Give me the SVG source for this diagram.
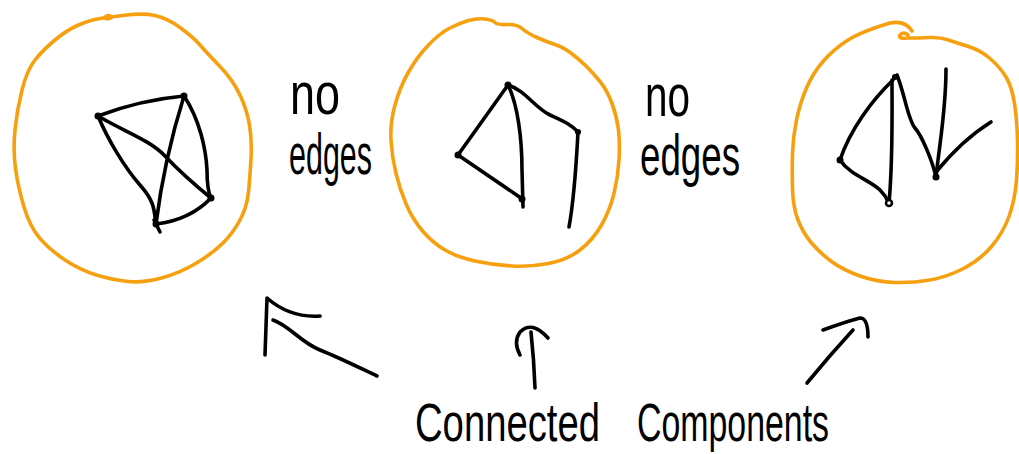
<svg xmlns="http://www.w3.org/2000/svg" width="1019" height="454" viewBox="0 0 1019 454">
<style>
.ring{fill:none;stroke:#f7a00f;stroke-width:3.6;stroke-linecap:round;stroke-linejoin:round}
.ink{fill:none;stroke:#000;stroke-width:3.6;stroke-linecap:round;stroke-linejoin:round}
.dot{fill:#000}
.hw{font-family:"Liberation Sans","DejaVu Sans",sans-serif;fill:#000}
</style>
<rect width="1019" height="454" fill="#fff"/>
<g id="component1">
<path class="ring" d="M100 18.5 Q110 17 126.5 15 Q143 13 155 15.5 Q167 18 180 27.5 Q193 37 200 45 Q207 53 220 66.5 Q233 80 240 95 Q247 110 249.5 125 Q252 140 251 158.5 Q250 177 248.5 192 Q247 207 240 220 Q233 233 223 243 Q213 253 196.5 263 Q180 273 161.5 278 Q143 283 128 281.5 Q113 280 96.5 275 Q80 270 65 260 Q50 250 40 238.5 Q30 227 24 207 Q18 187 15.5 168.5 Q13 150 15 130 Q17 110 22 90 Q27 70 35 60 Q43 50 55 40 Q67 30 78.5 25 Q90 20 100 18.5 Z"/>
<path class="ring" d="M104 18 Q108 14 112 17 Q108 20 104 18"/>
<path class="ink" d="M98 116 Q140 100 184 96"/>
<path class="ink" d="M98 116 C108 140 125 168 140 185 S154 210 156 224"/>
<path class="ink" d="M98 116 C125 132 150 140 165 156 S195 185 211 198"/>
<path class="ink" d="M184 96 Q164 160 156 224"/>
<path class="ink" d="M184 96 C200 120 206 150 207 170 Q207 190 211 198"/>
<path class="ink" d="M156 224 Q190 220 211 198"/>
<path class="ink" d="M154 220 L160 232"/>
<circle class="dot" cx="98" cy="116" r="3.5"/>
<circle class="dot" cx="184" cy="96" r="3.5"/>
<circle class="dot" cx="211" cy="198" r="3.5"/>
<circle class="dot" cx="156" cy="224" r="3.5"/>
</g>
<g id="component2">
<path class="ring" d="M468.5 20.5 Q477 18 485 19 Q493 20 495 22.5 Q497 25 507 24.5 Q517 24 522 28.5 Q527 33 537 37.5 Q547 42 555 44.5 Q563 47 571.5 53.5 Q580 60 586.5 66.5 Q593 73 600 81.5 Q607 90 612 103.5 Q617 117 618.5 130 Q620 143 619 160 Q618 177 614 193.5 Q610 210 601.5 225 Q593 240 580 250 Q567 260 548.5 263.5 Q530 267 511.5 266 Q493 265 475 261 Q457 257 445 250 Q433 243 423 231.5 Q413 220 406.5 205 Q400 190 396 173.5 Q392 157 391 140 Q390 123 395 105 Q400 87 408.5 72 Q417 57 428.5 45 Q440 33 450 28 Q460 23 468.5 20.5 Z"/>
<path class="ink" d="M508 85 L458 155"/>
<path class="ink" d="M458 155 L521 198"/>
<path class="ink" d="M508 85 C518 105 522 140 522 170 L523 207"/>
<path class="ink" d="M508 85 C525 90 535 108 550 115 S572 125 578 132"/>
<path class="ink" d="M578 132 C576 170 574 200 569 227"/>
<circle class="dot" cx="508" cy="85" r="3.5"/>
<circle class="dot" cx="458" cy="155" r="3.5"/>
<circle class="dot" cx="522" cy="199" r="3.5"/>
<circle class="dot" cx="578" cy="132" r="3"/>
</g>
<g id="component3">
<path class="ring" d="M912 31 Q905 20 890 23 Q860 32 846.5 41 Q833 50 823 61.5 Q813 73 806.5 88 Q800 103 796.5 120 Q793 137 792.5 153.5 Q792 170 792.5 188.5 Q793 207 798 220 Q803 233 811.5 243 Q820 253 831.5 261.5 Q843 270 860 276 Q877 282 895 282.5 Q913 283 930 280 Q947 277 963.5 268.5 Q980 260 991.5 246.5 Q1003 233 1009 216.5 Q1015 200 1016.5 180 Q1018 160 1017.5 140 Q1017 120 1014.5 103.5 Q1012 87 1006 77 Q1000 67 990 58.5 Q980 50 968.5 46.5 Q957 43 948.5 40 Q940 37 930 37.5 Q920 38 907 38 Q898 39 900 35 Q903 31 908 35"/>
<path class="ink" d="M840 160 C850 130 872 100 893 80"/>
<path class="ink" d="M840 160 C850 175 870 180 880 190 Q886 196 889 203"/>
<path class="ink" d="M889 203 C893 160 892 110 892 80"/>
<path class="ink" d="M897 75 C905 95 908 120 915 128 S932 160 936 177"/>
<path class="ink" d="M946 69 C946 110 940 140 936 177"/>
<path class="ink" d="M991 122 C970 135 950 155 936 172"/>
<circle class="dot" cx="840" cy="160" r="3.5"/>
<circle class="dot" cx="895" cy="77" r="3"/>
<circle cx="889" cy="203" r="3" fill="#fff" stroke="#000" stroke-width="2.5"/>
<circle class="dot" cx="936" cy="177" r="3.5"/>
</g>
<g id="label-no-edges-1">
<text class="hw" transform="translate(290 114) scale(1 1.1)" font-size="54" textLength="50" lengthAdjust="spacingAndGlyphs">no</text>
<text class="hw" transform="translate(289 174) scale(1 1.25)" font-size="46" textLength="83" lengthAdjust="spacingAndGlyphs">edges</text>
</g>
<g id="label-no-edges-2">
<text class="hw" transform="translate(645 116) scale(1 1.1)" font-size="54" textLength="45" lengthAdjust="spacingAndGlyphs">no</text>
<text class="hw" transform="translate(640 175) scale(1 1.25)" font-size="46" textLength="100" lengthAdjust="spacingAndGlyphs">edges</text>
</g>
<g id="label-connected">
<text class="hw" transform="translate(415 441) scale(1 1.2)" font-size="44" textLength="185" lengthAdjust="spacingAndGlyphs">Connected</text>
</g>
<g id="label-components">
<text class="hw" transform="translate(637 441) scale(1 1.2)" font-size="44" textLength="192" lengthAdjust="spacingAndGlyphs">Components</text>
</g>
<g id="connectors">
<path class="ink" d="M265 355 L267 298 Q290 318 320 316"/>
<path class="ink" d="M273 320 C290 326 300 342 320 350 S360 368 377 376"/>
<path class="ink" d="M520 355 Q513 342 520 332 Q532 320 548 338"/>
<path class="ink" d="M531 332 Q534 360 535 388"/>
<path class="ink" d="M823 330 Q845 322 860 318 Q868 318 868 337"/>
<path class="ink" d="M853 330 Q830 355 807 383"/>
</g>
</svg>
